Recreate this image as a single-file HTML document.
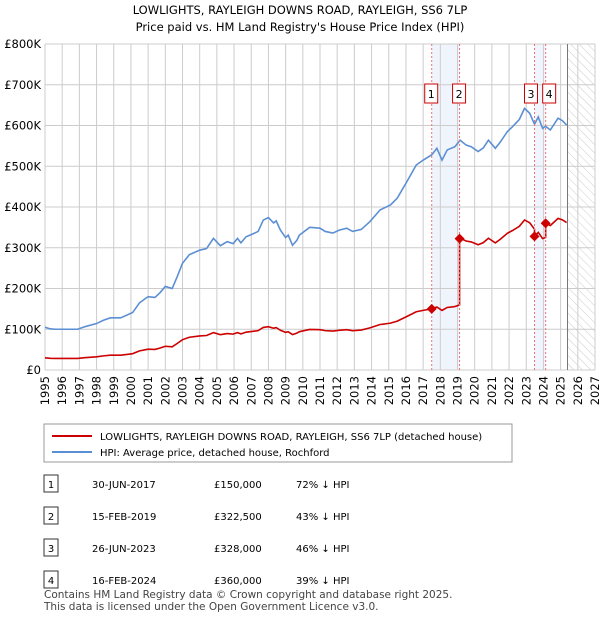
<!DOCTYPE html>
<html><head><meta charset="utf-8"><style>
body{margin:0;background:#fff;font-family:"DejaVu Sans","Liberation Sans",sans-serif;}
svg text{font-family:"DejaVu Sans","Liberation Sans",sans-serif;}
</style></head><body>
<svg id="c" width="600" height="620" xmlns="http://www.w3.org/2000/svg">
<text x="300" y="14" text-anchor="middle" font-size="11.5">LOWLIGHTS, RAYLEIGH DOWNS ROAD, RAYLEIGH, SS6 7LP</text>
<text x="300" y="31" text-anchor="middle" font-size="11.5">Price paid vs. HM Land Registry's House Price Index (HPI)</text>
<defs><pattern id="hatch" width="6" height="6" patternUnits="userSpaceOnUse" patternTransform="rotate(-45)"><line x1="0" y1="0" x2="0" y2="6" stroke="#ccc" stroke-width="1"/></pattern></defs>
<g id="grid"></g><g id="marks"></g><g id="axes"></g>
<rect x="44" y="424" width="468" height="38" fill="#fff" stroke="#999"/>
<line x1="52" y1="436" x2="92" y2="436" stroke="#cc0000" stroke-width="2"/>
<text x="100" y="440" font-size="10">LOWLIGHTS, RAYLEIGH DOWNS ROAD, RAYLEIGH, SS6 7LP (detached house)</text>
<line x1="52" y1="452" x2="92" y2="452" stroke="#5b8fd4" stroke-width="2"/>
<text x="100" y="456" font-size="10">HPI: Average price, detached house, Rochford</text>
<g id="table" font-size="10"></g>
<text x="44" y="598" font-size="10.5" fill="#444">Contains HM Land Registry data © Crown copyright and database right 2025.</text>
<text x="44" y="610" font-size="10.5" fill="#444">This data is licensed under the Open Government Licence v3.0.</text>
</svg>
<script>
const hpiYears=[1995,1995.3,1995.6,1996,1996.5,1996.9,1997.3,1998,1998.4,1998.8,1999.4,2000.1,2000.5,2001,2001.4,2001.7,2002,2002.4,2002.7,2003,2003.4,2004,2004.4,2004.8,2005.2,2005.6,2005.95,2006.2,2006.4,2006.7,2007.1,2007.4,2007.7,2008,2008.3,2008.45,2008.7,2009,2009.15,2009.4,2009.65,2009.8,2010.4,2011,2011.3,2011.75,2012.1,2012.55,2012.9,2013.4,2013.9,2014.5,2015.1,2015.5,2016.05,2016.6,2017,2017.5,2017.8,2018.1,2018.4,2018.85,2019.15,2019.5,2019.8,2020.2,2020.5,2020.8,2021.2,2021.5,2021.9,2022.2,2022.6,2022.9,2023.2,2023.48,2023.7,2023.95,2024.13,2024.4,2024.85,2025.1,2025.35];
const hpiValues=[105,101,100,100,100,100,106,114,122,128,128,141,165,180,178,190,205,200,230,262,283,294,298,323,305,315,310,323,312,327,334,340,368,374,361,366,343,325,331,306,318,331,350,348,340,336,343,348,340,345,364,393,405,422,462,503,515,528,544,515,540,548,564,552,548,536,545,564,544,560,585,597,615,642,630,603,621,593,598,589,618,612,601];
const saleLabels=["1","2","3","4"];
const saleDates=["30-JUN-2017","15-FEB-2019","26-JUN-2023","16-FEB-2024"];
const saleYears=[2017.5,2019.12,2023.48,2024.13];
const salePrices=[150000,322500,328000,360000];
const salePriceText=["£150,000","£322,500","£328,000","£360,000"];
const saleHpiText=["72% ↓ HPI","43% ↓ HPI","46% ↓ HPI","39% ↓ HPI"];
const yTicks=[0,100,200,300,400,500,600,700,800];
const yTickLabels=["£0","£100K","£200K","£300K","£400K","£500K","£600K","£700K","£800K"];
const xTicks=[1995,1996,1997,1998,1999,2000,2001,2002,2003,2004,2005,2006,2007,2008,2009,2010,2011,2012,2013,2014,2015,2016,2017,2018,2019,2020,2021,2022,2023,2024,2025,2026,2027];
const dataEnd=2025.4;
const X=y=>45+(y-1995)*550/32, Y=v=>370-v*326/800;
const NS="http://www.w3.org/2000/svg";
function mk(p,tag,a){const e=document.createElementNS(NS,tag);for(const k in a)e.setAttribute(k,a[k]);p.appendChild(e);return e;}
const grid=document.getElementById('grid'),marks=document.getElementById('marks'),axes=document.getElementById('axes');
[[0,1],[2,3]].forEach(([a,b])=>{const r=mk(grid,'rect',{x:X(saleYears[a]),y:44,width:X(saleYears[b])-X(saleYears[a]),height:326,fill:'#f0f5fd'});

});
yTicks.forEach((t,i)=>{const l=mk(grid,'line',{x1:45,x2:595,y1:Y(t),y2:Y(t),stroke:'#ccc'});


const tx=mk(axes,'text',{x:41,y:Y(t)+4,'text-anchor':'end','font-size':11.5});tx.textContent=yTickLabels[i];

});
xTicks.forEach(t=>{const l=mk(grid,'line',{x1:X(t),x2:X(t),y1:44,y2:370,stroke:'#ccc'});


const tx=mk(axes,'text',{x:0,y:0,'text-anchor':'end','font-size':11.5,transform:`translate(${X(t)+4},376) rotate(-90)`});tx.textContent=t;

});
const h=mk(grid,'rect',{x:X(dataEnd),y:44,width:595-X(dataEnd),height:326,fill:'url(#hatch)'});


const el=mk(grid,'line',{x1:X(dataEnd),x2:X(dataEnd),y1:44,y2:370,stroke:'#777'});


function hpiAt(t){for(let i=1;i<hpiYears.length;i++){if(t<=hpiYears[i]){const f=(t-hpiYears[i-1])/(hpiYears[i]-hpiYears[i-1]);return hpiValues[i-1]+f*(hpiValues[i]-hpiValues[i-1]);}}return hpiValues[hpiValues.length-1];}
const hp=mk(marks,'polyline',{points:hpiYears.map((t,i)=>X(t)+','+Y(hpiValues[i])).join(' '),fill:'none',stroke:'#5b8fd4','stroke-width':1.6});


const pts=[];
hpiYears.forEach(t=>{let k=-1;for(let j=0;j<saleYears.length;j++)if(saleYears[j]<=t)k=j;const base=k<0?0:k;
const v=salePrices[base]/1000*hpiAt(t)/hpiAt(saleYears[base]);pts.push([t,v]);});
saleYears.forEach((s,j)=>{if(j>0){const v=salePrices[j-1]/1000*hpiAt(s)/hpiAt(saleYears[j-1]);pts.push([s-0.0001,v]);}pts.push([s,salePrices[j]/1000]);});
pts.sort((a,b)=>a[0]-b[0]);
const pl=mk(marks,'polyline',{points:pts.map(p=>X(p[0])+','+Y(p[1])).join(' '),fill:'none',stroke:'#cc0000','stroke-width':1.6});


saleYears.forEach((s,j)=>{const x=X(s),y=Y(salePrices[j]/1000);
const d=mk(marks,'line',{x1:x,x2:x,y1:44,y2:370,stroke:'#f07070','stroke-dasharray':'2,2'});


const m=mk(marks,'polygon',{points:`${x},${y-5} ${x+5},${y} ${x},${y+5} ${x-5},${y}`,fill:'#cc0000'});


const bx=j===2?x-10:(j===3?x-3:x-7);
const b=mk(marks,'rect',{x:bx,y:84,width:13,height:19,fill:'#fff',stroke:'#cc0000'});


const t=mk(marks,'text',{x:bx+6.5,y:98,'text-anchor':'middle','font-size':11});t.textContent=saleLabels[j];

});
const tb=document.getElementById('table');
saleLabels.forEach((l,j)=>{const y=487+j*32;
const r=mk(tb,'rect',{x:44,y:y-12,width:14,height:17,fill:'#fff',stroke:'#333'});


const cells=[[51,l,'middle'],[92,saleDates[j],'start'],[214,salePriceText[j],'start'],[296,saleHpiText[j],'start']];
cells.forEach(c=>{const t=mk(tb,'text',{x:c[0],y:y+1,'text-anchor':c[2]});t.textContent=c[1];

});});
</script>
</body></html>
